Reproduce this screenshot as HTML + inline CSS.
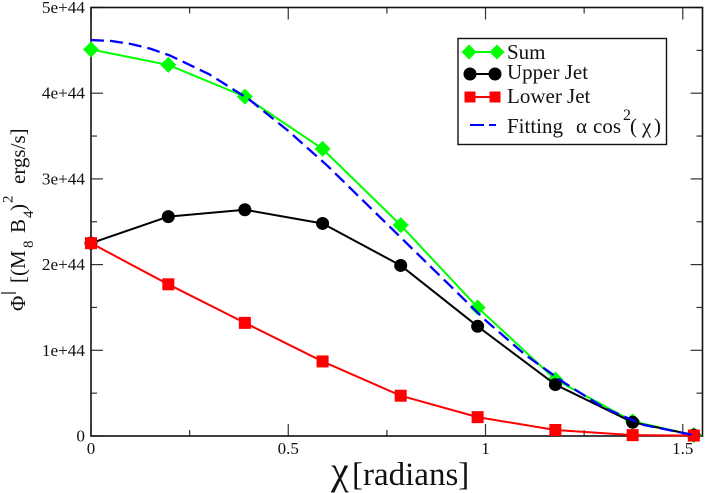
<!DOCTYPE html>
<html>
<head>
<meta charset="utf-8">
<style>
html,body{margin:0;padding:0;background:#fff;}
svg{display:block;}
text{font-family:"Liberation Serif",serif;fill:#111;}
</style>
</head>
<body>
<svg id="chart" xmlns="http://www.w3.org/2000/svg" width="705" height="493" viewBox="0 0 705 493"></svg>
<script>
const xPoints = [0, 0.196, 0.39, 0.587, 0.785, 0.98, 1.177, 1.373, 1.528];
const sumValues = [4.51, 4.33, 3.96, 3.35, 2.46, 1.50, 0.66, 0.17, 0.01];
const upperJetValues = [2.25, 2.56, 2.64, 2.48, 1.99, 1.28, 0.60, 0.16, 0.01];
const lowerJetValues = [2.25, 1.77, 1.32, 0.87, 0.47, 0.22, 0.07, 0.01, 0.005];
const fitX = [0, 0.05, 0.1, 0.15, 0.2, 0.3, 0.4, 0.5, 0.6, 0.7, 0.8, 0.9, 1.0, 1.1, 1.2, 1.3, 1.4, 1.528];
const fitValues = [4.62, 4.61, 4.575, 4.52, 4.44, 4.22, 3.93, 3.56, 3.15, 2.70, 2.25, 1.80, 1.35, 0.95, 0.62, 0.33, 0.13, 0.01];
const xTickValues = [0, 0.5, 1, 1.5];
const xTickLabels = ["0", "0.5", "1", "1.5"];
const xMinorValues = [0.25, 0.75, 1.25];
const yTickValues = [0, 1, 2, 3, 4, 5];
const yTickLabels = ["0", "1e+44", "2e+44", "3e+44", "4e+44", "5e+44"];
const yMinorValues = [0.5, 1.5, 2.5, 3.5, 4.5];

const NS = "http://www.w3.org/2000/svg";
const svg = document.getElementById("chart");
const left = 91, right = 702.5, top_ = 7.5, bottom = 436;
const xMax = 1.55, yMax = 5;
function sx(v){ return left + v / xMax * (right - left); }
function sy(v){ return bottom - v / yMax * (bottom - top_); }

function make(tag, attrs, name, parent){
  const el = document.createElementNS(NS, tag);
  for (const k in attrs) el.setAttribute(k, attrs[k]);
  
  
  (parent || svg).appendChild(el);
  return el;
}
function label(x, y, str, size, anchor, name, parent){
  const t = make("text", {x:x, y:y, "font-size":size, "text-anchor":anchor || "start"}, name, parent);
  t.textContent = str;
  return t;
}
function polyline(xs, ys, color, width, name, dash){
  const pts = xs.map((v,i)=>sx(v).toFixed(2)+","+sy(ys[i]).toFixed(2)).join(" ");
  const attrs = {points:pts, fill:"none", stroke:color, "stroke-width":width, "stroke-linejoin":"round"};
  if (dash) attrs["stroke-dasharray"] = dash;
  return make("polyline", attrs, name);
}
function diamond(cx, cy, r, name, parent){
  make("polygon", {points:`${cx},${cy-r} ${cx+r},${cy} ${cx},${cy+r} ${cx-r},${cy}`, fill:"#00ff00"}, name, parent);
}
function circle(cx, cy, r, name, parent){
  make("circle", {cx:cx, cy:cy, r:r, fill:"#000"}, name, parent);
}
function square(cx, cy, r, name, parent){
  make("rect", {x:cx-r, y:cy-r, width:2*r, height:2*r, fill:"#ff0000"}, name, parent);
}
function tickLine(x1,y1,x2,y2,name){
  make("line", {x1:x1,y1:y1,x2:x2,y2:y2,stroke:"#333","stroke-width":1.2}, name);
}

/* ticks */
xTickValues.forEach(v=>{
  tickLine(sx(v), bottom, sx(v), bottom-12, "x-major-tick");
  tickLine(sx(v), top_, sx(v), top_+12, "x-major-tick-top");
});
xMinorValues.forEach(v=>{
  tickLine(sx(v), bottom, sx(v), bottom-6, "x-minor-tick");
  tickLine(sx(v), top_, sx(v), top_+6, "x-minor-tick-top");
});
yTickValues.forEach(v=>{
  tickLine(left, sy(v), left+12, sy(v), "y-major-tick");
  tickLine(right, sy(v), right-12, sy(v), "y-major-tick-right");
});
yMinorValues.forEach(v=>{
  tickLine(left, sy(v), left+6, sy(v), "y-minor-tick");
  tickLine(right, sy(v), right-6, sy(v), "y-minor-tick-right");
});

/* frame */
make("rect", {x:left, y:top_, width:right-left, height:bottom-top_, fill:"none", stroke:"#111", "stroke-width":1.6}, "plot-frame");

/* tick labels */
xTickValues.forEach((v,i)=>{
  label(sx(v), 454, xTickLabels[i], 17, "middle", "x-tick-label");
});
yTickValues.forEach((v,i)=>{
  label(85, sy(v)+5.5, yTickLabels[i], 17.2, "end", "y-tick-label");
});

/* series */
polyline(xPoints, sumValues, "#00ff00", 2, "sum-line");
xPoints.forEach((v,i)=>diamond(sx(v), sy(sumValues[i]), 8, "sum-point"));
polyline(xPoints, upperJetValues, "#000", 2, "upper-jet-line");
xPoints.forEach((v,i)=>circle(sx(v), sy(upperJetValues[i]), 6.5, "upper-jet-point"));
polyline(xPoints, lowerJetValues, "#ff0000", 2, "lower-jet-line");
xPoints.forEach((v,i)=>square(sx(v), sy(lowerJetValues[i]), 6, "lower-jet-point"));
polyline(fitX, fitValues, "#0000ff", 2.3, "fit-curve", "13 6");

/* legend */
const lg = make("g", {}, "legend");
make("rect", {x:458, y:38.5, width:208.5, height:106, fill:"#fff", stroke:"#111", "stroke-width":1.4}, "legend-box", lg);
make("line", {x1:469,y1:52,x2:497,y2:52,stroke:"#00ff00","stroke-width":2}, "legend-sum-line", lg);
diamond(469, 52, 7.5, "legend-sum-marker-left", lg);
diamond(497, 52, 7.5, "legend-sum-marker-right", lg);
label(507, 59, "Sum", 21, "start", "legend-sum-label", lg);
make("line", {x1:470,y1:74,x2:495,y2:74,stroke:"#000","stroke-width":2}, "legend-upper-line", lg);
circle(470, 74, 6.5, "legend-upper-marker-left", lg);
circle(495, 74, 6.5, "legend-upper-marker-right", lg);
label(507, 79, "Upper Jet", 21, "start", "legend-upper-label", lg);
make("line", {x1:470,y1:97,x2:495,y2:97,stroke:"#ff0000","stroke-width":2}, "legend-lower-line", lg);
square(470, 97, 5.5, "legend-lower-marker-left", lg);
square(495, 97, 5.5, "legend-lower-marker-right", lg);
label(507, 103, "Lower Jet", 21, "start", "legend-lower-label", lg);
make("line", {x1:470,y1:125,x2:496,y2:125,stroke:"#0000ff","stroke-width":2,"stroke-dasharray":"14 5"}, "legend-fit-line", lg);
label(507, 133, "Fitting", 21, "start", "legend-fit-label", lg);
label(576, 133, "α", 21, "start", "legend-fit-alpha", lg);
label(593, 133, "cos", 21, "start", "legend-fit-cos", lg);
label(623, 120, "2", 16, "start", "legend-fit-exponent", lg);
label(630, 133, "(", 21, "start", "legend-fit-open", lg);
label(642, 133, "χ", 21, "start", "legend-fit-chi", lg);
label(654, 133, ")", 21, "start", "legend-fit-close", lg);

/* axis titles */
label(331, 484, "χ", 40, "start", "x-axis-symbol");
label(352, 485, "[radians]", 33, "start", "x-axis-title");

const yt = make("g", {}, "y-axis-title");
function yPiece(baseX, posY, str, size, name){
  const t = make("text", {transform:`translate(${baseX},${posY}) rotate(-90)`, "font-size":size}, name, yt);
  t.textContent = str;
}
yPiece(25, 311, "Φ", 21, "y-title-phi");
make("line", {x1:1,y1:293,x2:16,y2:293,stroke:"#111","stroke-width":1.2}, "y-title-phi-bar", yt);
yPiece(25, 283, "[(M", 21, "y-title-mass");
yPiece(33, 248, "8", 15, "y-title-mass-subscript");
yPiece(25, 233, "B", 21, "y-title-field");
yPiece(33, 218, "4", 15, "y-title-field-subscript");
yPiece(25, 211, ")", 21, "y-title-close");
yPiece(12.5, 203, "2", 15, "y-title-exponent");
yPiece(25, 184, "ergs/s]", 21, "y-title-units");
</script>
</body>
</html>
